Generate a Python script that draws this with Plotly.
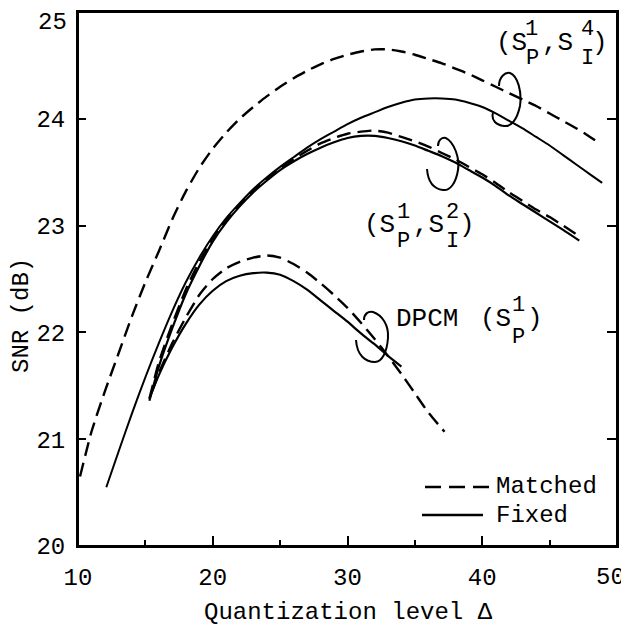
import plotly.graph_objects as go

# ---------------- data ----------------
x_s4_matched = [10.15, 11, 12, 13, 14, 15, 16, 17, 18, 19, 20, 21, 22, 23, 24, 25, 26, 27, 28, 29, 30,
                31, 32, 33, 34, 35, 36, 37, 38, 39, 40, 41, 42, 43, 44, 45, 46, 47, 48, 48.7]
y_s4_matched = [20.65, 21.07, 21.45, 21.80, 22.15, 22.47, 22.76, 23.06, 23.32, 23.54, 23.72, 23.87, 24.00,
                24.11, 24.21, 24.30, 24.38, 24.45, 24.51, 24.56, 24.60, 24.63, 24.65, 24.65, 24.63, 24.60,
                24.56, 24.52, 24.47, 24.42, 24.36, 24.30, 24.24, 24.18, 24.12, 24.05, 23.98, 23.91, 23.83, 23.77]

x_s4_fixed = [12.1, 13, 14, 15, 16, 17, 18, 19, 20, 21, 22, 23, 24, 25, 26, 27, 28, 29, 30, 31, 32, 33,
              34, 35, 36, 37, 38, 39, 40, 41, 42, 43, 44, 45, 46, 47, 48, 48.9]
y_s4_fixed = [20.55, 20.88, 21.24, 21.58, 21.90, 22.20, 22.47, 22.70, 22.90, 23.07, 23.21, 23.34, 23.45,
              23.55, 23.64, 23.73, 23.81, 23.88, 23.95, 24.01, 24.06, 24.11, 24.15, 24.18, 24.19, 24.19,
              24.18, 24.15, 24.11, 24.05, 23.98, 23.91, 23.83, 23.75, 23.66, 23.57, 23.48, 23.40]

x_s2 = [15.3, 16, 17, 18, 19, 20, 21, 22, 23, 24, 25, 26, 27, 28, 29, 30, 31, 32, 33, 34, 35, 36, 37,
        38, 39, 40, 41, 42, 43, 44, 45, 46, 47.2]
y_s2_matched = [21.38, 21.72, 22.08, 22.40, 22.66, 22.88, 23.05, 23.20, 23.33, 23.44, 23.54, 23.62, 23.70,
                23.77, 23.82, 23.86, 23.88, 23.89, 23.87, 23.83, 23.79, 23.74, 23.68, 23.62, 23.55, 23.48,
                23.40, 23.31, 23.23, 23.15, 23.08, 23.00, 22.90]
y_s2_fixed = [21.36, 21.68, 22.04, 22.36, 22.62, 22.85, 23.03, 23.18, 23.31, 23.42, 23.52, 23.60, 23.67,
              23.73, 23.78, 23.82, 23.84, 23.84, 23.82, 23.79, 23.75, 23.70, 23.65, 23.59, 23.52, 23.45,
              23.37, 23.28, 23.20, 23.12, 23.04, 22.96, 22.86]

x_dpcm_matched = [15.5, 16, 17, 18, 19, 20, 21, 22, 23, 24, 25, 26, 27, 28, 29, 30, 31, 32, 33, 34, 35, 36, 37.2]
y_dpcm_matched = [21.45, 21.62, 21.90, 22.14, 22.35, 22.50, 22.60, 22.66, 22.70, 22.72, 22.70, 22.64, 22.56,
                  22.46, 22.35, 22.23, 22.09, 21.94, 21.78, 21.61, 21.43, 21.25, 21.07]

x_dpcm_fixed = [15.3, 16, 17, 18, 19, 20, 21, 22, 23, 24, 25, 26, 27, 28, 29, 30, 31, 32, 33, 34]
y_dpcm_fixed = [21.38, 21.60, 21.86, 22.08, 22.26, 22.39, 22.48, 22.53, 22.555, 22.56, 22.54, 22.48, 22.40,
                22.30, 22.20, 22.10, 21.99, 21.89, 21.78, 21.68]

x_ticks = [10, 20, 30, 40, 50]
x_ticktext = ["10", "20", "30", "40", ""]      # "50" placed as a text nudged inside the window
x_minor = [15, 25, 35, 45]
y_ticks = [20, 21, 22, 23, 24, 25]
y_ticktext = ["20", "21", "22", "23", "24", ""]  # "25" placed as a text nudged down as in the original

FONT = "Liberation Mono, Courier New, monospace"
# page body has an 8px margin: figure is placed at (8, 8) in the window
W, H = 621, 626
L, R, T, B = 70, 12, 4, 88
PW, PH = W - L - R, H - T - B


def px2paper(px, py):
    # px, py are window pixel coordinates
    return (px - 8 - L) / PW, (H - B - (py - 8)) / PH


DASH = "14px,7px"
fig = go.Figure()
series = [
    (x_s4_matched, y_s4_matched, DASH, 2.4),
    (x_s4_fixed, y_s4_fixed, "solid", 2.0),
    (x_s2, y_s2_matched, DASH, 2.4),
    (x_s2, y_s2_fixed, "solid", 2.2),
    (x_dpcm_matched, y_dpcm_matched, DASH, 2.4),
    (x_dpcm_fixed, y_dpcm_fixed, "solid", 2.2),
]
for xs, ys, dash, w in series:
    fig.add_trace(go.Scatter(x=xs, y=ys, mode="lines", line=dict(color="black", width=w, dash=dash,
                                                                 shape="spline", smoothing=0.6),
                             showlegend=False, hoverinfo="skip"))
# empty trace so the right-hand tick axis is drawn
fig.add_trace(go.Scatter(x=[None], y=[None], yaxis="y2", showlegend=False, hoverinfo="skip"))

annotations = []


def text(t, px, py, size=26, xanchor="center"):
    ax, ay = px2paper(px, py)
    annotations.append(dict(text=t, x=ax, y=ay, xref="paper", yref="paper", showarrow=False,
                            xanchor=xanchor, yanchor="middle", font=dict(family=FONT, size=size, color="black")))


# (S_P^1, S_I^4)
text("(S", 511, 43); text("1", 531, 30, 22); text("P", 532, 59, 22)
text(",S", 557, 43); text("4", 587, 30, 22); text("I", 587, 59, 22); text(")", 600, 43)
# (S_P^1, S_I^2)
text("(S", 379, 225); text("1", 403, 212, 22); text("P", 403, 241, 22)
text(",S", 428, 225); text("2", 452, 212, 22); text("I", 452, 241, 22); text(")", 467, 225)
# DPCM (S_P^1)
text("DPCM", 427, 319); text("(S", 495, 319); text("1", 518, 305, 22); text("P", 518, 338, 22)
text(")", 535, 319)
# legend text
text("Matched", 494, 486, 24, "left")
text("Fixed", 494, 515, 24, "left")
# end tick labels, nudged inside the window as in the original
text("50", 610, 577, 24)
text("25", 69, 22, 24, "right")
# axis titles
text("Quantization level Δ", 348, 612, 24)
ax_, ay_ = px2paper(22, 315)
annotations.append(dict(text="SNR (dB)", x=ax_, y=ay_, xref="paper", yref="paper", showarrow=False,
                        textangle=-90, xanchor="center", yanchor="middle",
                        font=dict(family=FONT, size=24, color="black")))


def path(points):
    (x0, y0), rest = points[0], points[1:]
    px0, py0 = px2paper(x0, y0)
    s = f"M {px0:.4f},{py0:.4f}"
    for i in range(0, len(rest), 3):
        seg = [px2paper(*p) for p in rest[i:i + 3]]
        s += " C " + " ".join(f"{a:.4f},{b:.4f}" for a, b in seg)
    return s


shapes = []
loops = [
    [(499, 86), (499, 77), (505, 72), (510, 73), (518, 76), (522, 92), (520, 106),
     (517, 120), (511, 127), (504, 126), (496, 125), (491, 120), (493, 113)],
    [(438, 146), (438, 140), (442, 137), (446, 138), (454, 142), (460, 158), (458, 170),
     (456, 183), (450, 191), (443, 190), (435, 189), (428, 183), (427, 169)],
    [(364, 320), (364, 314), (368, 311), (373, 312), (382, 315), (389, 325), (388, 338),
     (387, 352), (382, 362), (375, 362), (366, 362), (357, 356), (356, 340)],
]
for lp in loops:
    shapes.append(dict(type="path", path=path(lp), xref="paper", yref="paper",
                       line=dict(color="black", width=2)))

# plot frame (axis-domain rectangle)
shapes.append(dict(type="rect", x0=0, x1=1, y0=0, y1=1, xref="x domain", yref="y domain",
                   line=dict(color="black", width=2), fillcolor="rgba(0,0,0,0)", layer="above"))

# legend samples
x0, y0 = px2paper(425, 487); x1, _ = px2paper(493, 487)
shapes.append(dict(type="line", x0=x0, x1=x1, y0=y0, y1=y0, xref="paper", yref="paper",
                   line=dict(color="black", width=2.4, dash="16px,8px")))
x0, y0 = px2paper(422, 515); x1, _ = px2paper(483, 515)
shapes.append(dict(type="line", x0=x0, x1=x1, y0=y0, y1=y0, xref="paper", yref="paper",
                   line=dict(color="black", width=2.4)))

fig.update_layout(
    width=W, height=H, margin=dict(l=L, r=R, t=T, b=B, autoexpand=False),
    paper_bgcolor="white", plot_bgcolor="white",
    annotations=annotations, shapes=shapes, showlegend=False,
    xaxis=dict(range=[10, 50], tickvals=x_ticks, ticktext=x_ticktext, ticks="inside", ticklen=10,
               tickwidth=2, tickcolor="black",
               showline=True, linewidth=2, linecolor="black", mirror=True, showgrid=False, zeroline=False,
               automargin=False,
               tickfont=dict(family=FONT, size=24, color="black"), ticklabelstandoff=8,
               minor=dict(tickvals=x_minor, ticks="inside", ticklen=6, tickwidth=2, tickcolor="black")),
    yaxis=dict(range=[20, 25], tickvals=y_ticks, ticktext=y_ticktext, ticks="inside", ticklen=8,
               tickwidth=2, tickcolor="black",
               showline=True, linewidth=2, linecolor="black", mirror=True, showgrid=False, zeroline=False,
               automargin=False,
               tickfont=dict(family=FONT, size=24, color="black"), ticklabelstandoff=6),
    yaxis2=dict(range=[20, 25], tickvals=y_ticks, overlaying="y", side="right", ticks="inside", ticklen=10,
                tickwidth=2, tickcolor="black", showticklabels=False, showline=True, linewidth=2,
                linecolor="black", showgrid=False, zeroline=False, automargin=False),
)

fig.write_html("out.html")
